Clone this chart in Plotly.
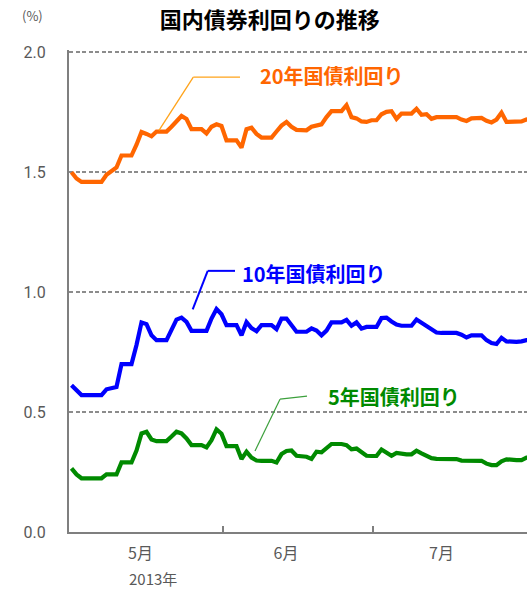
import pandas as pd
from datetime import datetime, timedelta
import plotly.graph_objects as go

# ---- data (daily, 2013-04-30 .. 2013-07-31; non-trading days carry the prior value) ----
dates = pd.date_range("2013-04-30", "2013-07-31", freq="D")

jgb20 = [1.50, 1.474, 1.46, 1.46, 1.46, 1.46, 1.46, 1.49, 1.505, 1.52,
         1.57, 1.57, 1.57, 1.615, 1.668, 1.66, 1.65, 1.67, 1.67, 1.67,
         1.69, 1.712, 1.735, 1.722, 1.68, 1.68, 1.68, 1.662, 1.69, 1.70,
         1.693, 1.633, 1.633, 1.633, 1.603, 1.68, 1.686, 1.66, 1.645, 1.645,
         1.645, 1.67, 1.695, 1.71, 1.69, 1.677, 1.675, 1.675, 1.69, 1.695,
         1.70, 1.73, 1.755, 1.755, 1.755, 1.78, 1.73, 1.725, 1.712, 1.71,
         1.717, 1.717, 1.742, 1.752, 1.755, 1.723, 1.745, 1.745, 1.745, 1.765,
         1.74, 1.742, 1.723, 1.73, 1.73, 1.73, 1.73, 1.73, 1.72, 1.714,
         1.725, 1.727, 1.727, 1.715, 1.708, 1.72, 1.749, 1.71, 1.71, 1.71,
         1.712, 1.72, 1.715]

jgb10 = [0.612, 0.59, 0.571, 0.571, 0.571, 0.571, 0.571, 0.595, 0.602, 0.605,
         0.70, 0.70, 0.70, 0.78, 0.874, 0.867, 0.82, 0.80, 0.80, 0.80,
         0.843, 0.886, 0.894, 0.876, 0.839, 0.839, 0.839, 0.839, 0.89, 0.93,
         0.908, 0.8625, 0.8625, 0.8625, 0.82, 0.875, 0.85, 0.8375, 0.8625, 0.8625,
         0.8625, 0.846, 0.89, 0.89, 0.865, 0.835, 0.835, 0.835, 0.849, 0.84,
         0.82, 0.84, 0.874, 0.874, 0.874, 0.885, 0.86, 0.874, 0.848, 0.855,
         0.855, 0.855, 0.892, 0.894, 0.878, 0.865, 0.86, 0.86, 0.86, 0.886,
         0.872, 0.862, 0.845, 0.832, 0.83, 0.83, 0.83, 0.83, 0.823, 0.811,
         0.82, 0.82, 0.82, 0.80, 0.788, 0.784, 0.81, 0.795, 0.793, 0.793,
         0.795, 0.80, 0.80]

jgb5 = [0.265, 0.24, 0.224, 0.224, 0.224, 0.224, 0.224, 0.24, 0.24, 0.24,
        0.29, 0.29, 0.29, 0.34, 0.411, 0.418, 0.386, 0.379, 0.379, 0.379,
        0.398, 0.418, 0.411, 0.39, 0.3625, 0.3625, 0.3625, 0.353, 0.383, 0.428,
        0.41, 0.358, 0.358, 0.358, 0.304, 0.335, 0.31, 0.298, 0.297, 0.297,
        0.297, 0.29, 0.325, 0.338, 0.34, 0.318, 0.314, 0.314, 0.305, 0.335,
        0.332, 0.35, 0.367, 0.367, 0.367, 0.362, 0.345, 0.348, 0.335, 0.318,
        0.317, 0.317, 0.344, 0.332, 0.318, 0.33, 0.325, 0.324, 0.324, 0.339,
        0.328, 0.318, 0.308, 0.305, 0.304, 0.304, 0.304, 0.304, 0.298, 0.297,
        0.297, 0.297, 0.297, 0.285, 0.279, 0.279, 0.295, 0.303, 0.30, 0.30,
        0.30, 0.31, 0.31]

series_names = ["20年国債利回り", "10年国債利回り", "5年国債利回り"]
month_labels = ["5月", "6月", "7月"]
year_label = "2013年"
title_text = "国内債券利回りの推移"
y_ticks = [0.0, 0.5, 1.0, 1.5, 2.0]

# ---- styling ----
BASE = datetime(2013, 4, 30)


def dt(days):
    return (BASE + timedelta(days=days)).strftime("%Y-%m-%d %H:%M:%S")


colors = ["#FF6600", "#0000FF", "#008A00"]
leader_colors = ["#FFA31A", "#0000FF", "#3CA03C"]
leader_widths = [1.3, 2, 1.2]
CJK = "Noto Sans CJK JP"
GRAY = "#7F7F7F"

fig = go.Figure()
for name, vals, col in zip(series_names, [jgb20, jgb10, jgb5], colors):
    fig.add_trace(go.Scatter(x=dates, y=vals, mode="lines", name=name,
                             line=dict(color=col, width=4.2, shape="linear"),
                             hoverinfo="x+y"))

# leader lines (day offsets from 2013-04-30, y in %)
leaders = [
    [(17.5, 1.675), (24.36, 1.897), (33.7, 1.897)],
    [(24.24, 0.928), (27.24, 1.089), (32.7, 1.089)],
    [(36.7, 0.3375), (41.7, 0.554), (47.1, 0.567)],
]
label_pos = [(37.2, 1.904), (33.6, 1.079), (50.9, 0.564)]

for pts, col, w in zip(leaders, leader_colors, leader_widths):
    for (x0, y0), (x1, y1) in zip(pts[:-1], pts[1:]):
        fig.add_shape(type="line", xref="x", yref="y",
                      x0=dt(x0), y0=y0, x1=dt(x1), y1=y1,
                      line=dict(color=col, width=w))

for name, (lx, ly), col in zip(series_names, label_pos, colors):
    fig.add_annotation(x=dt(lx), y=ly, xref="x", yref="y", text="<b>%s</b>" % name,
                       showarrow=False, xanchor="left", yanchor="middle",
                       font=dict(family=CJK, size=20, color=col))

# year under the first month label
fig.add_annotation(x=dt(16.2), y=-0.0975, xref="x", yref="paper", text=year_label,
                   showarrow=False, xanchor="center", yanchor="middle", borderpad=0,
                   font=dict(family=CJK, size=15, color="#595959"))
# unit label
fig.add_annotation(x=-0.079, y=1.072, xref="paper", yref="paper", text="(%)",
                   showarrow=False, xanchor="center", yanchor="middle",
                   font=dict(family=CJK, size=13, color="#595959"))

fig.update_layout(
    width=527, height=590,
    margin=dict(l=69, r=0, t=50, b=58),
    paper_bgcolor="white", plot_bgcolor="white",
    showlegend=False,
    title=dict(text="<b>%s</b>" % title_text, x=0.512, xref="container", xanchor="center",
               y=0.966, yref="container", yanchor="middle",
               font=dict(family=CJK, size=22, color="black")),
    font=dict(family="Roboto, " + CJK, color="#595959"),
)

fig.update_xaxes(
    type="date",
    range=[dt(-0.5), dt(91.1)],
    tickmode="array",
    tickvals=[dt(13.8), dt(42.9), dt(74.0)],
    ticktext=month_labels,
    ticks="",
    ticklabelstandoff=6,
    tickfont=dict(family=CJK, size=16, color="#595959"),
    showgrid=False,
    showline=True, linecolor=GRAY, linewidth=2,
    zeroline=False,
    minor=dict(tickmode="array", tickvals=[dt(30.3), dt(60.3)],
               ticks="inside", ticklen=6, tickwidth=1.5, tickcolor=GRAY, showgrid=False),
)

fig.update_yaxes(
    range=[0, 2.01],
    tickmode="array",
    tickvals=y_ticks,
    ticktext=["%.1f" % v for v in y_ticks],
    ticks="",
    ticklabelstandoff=18,
    tickfont=dict(family="Roboto", size=16, color="#595959"),
    showgrid=True, gridcolor="#8C8C8C", gridwidth=2, griddash="4px,2.5px",
    showline=True, linecolor=GRAY, linewidth=2,
    zeroline=False,
)

fig.write_html("out.html")
